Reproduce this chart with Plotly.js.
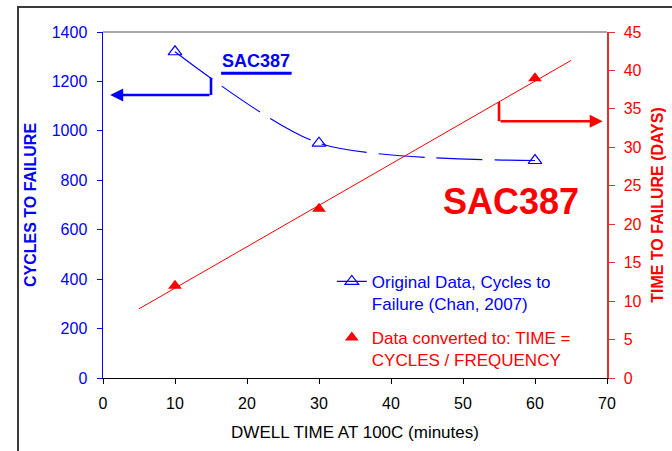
<!DOCTYPE html>
<html><head><meta charset="utf-8">
<script src="https://cdn.plot.ly/plotly-3.0.1.min.js"></script>
<style>
html,body{margin:0;padding:0;background:#fff;overflow:hidden}
#chart{width:672px;height:451px}
#frame{position:absolute;left:17px;top:6px;width:700px;height:500px;border-left:2px solid #3a3a3a;border-top:2px solid #3a3a3a;pointer-events:none}
</style>
</head><body>
<div id="chart"></div><div id="frame"></div>
<script>
// Data
const dwellMinutes = [10, 30, 60];
const cyclesToFailure = [1320, 950, 880];
const daysToFailure = [12, 22, 39];
const trendDwell = [5, 65];
const trendDays = [9.0, 41.3];
const xTickVals = [0, 10, 20, 30, 40, 50, 60, 70];
const yTickVals = [0, 200, 400, 600, 800, 1000, 1200, 1400];
const y2TickVals = [0, 5, 10, 15, 20, 25, 30, 35, 40, 45];

const BLUE = '#0000FF', RED = '#FF0000';
const FONT = 'Arial, "Liberation Sans", sans-serif';

const traces = [
  {x: dwellMinutes, y: cyclesToFailure, mode: 'lines', line: {color: BLUE, width: 1.2, shape: 'spline', smoothing: 0.75, dash: '46px,12px'}, showlegend: false, hoverinfo: 'skip'},
  {x: dwellMinutes, y: cyclesToFailure, mode: 'markers', marker: {symbol: 'triangle-up-open', size: 12, color: BLUE, line: {width: 1.2, color: BLUE}}, showlegend: false},
  {x: [null], y: [null], mode: 'lines+markers', legendgroup: 'a', name: 'Original Data, Cycles to<br>Failure (Chan, 2007)', line: {color: BLUE, width: 1.2}, marker: {symbol: 'triangle-up-open', size: 12, color: BLUE, line: {width: 1.2, color: BLUE}}},
  {x: trendDwell, y: trendDays, yaxis: 'y2', mode: 'lines', line: {color: RED, width: 1}, showlegend: false, hoverinfo: 'skip'},
  {x: dwellMinutes, y: daysToFailure, yaxis: 'y2', mode: 'markers', legendgroup: 'b', name: 'Data converted to: TIME =<br>CYCLES / FREQUENCY', marker: {symbol: 'triangle-up', size: 12, color: RED}}
];

const layout = {
  width: 672, height: 451,
  margin: {l: 103, r: 65, t: 32, b: 73},
  paper_bgcolor: '#fff', plot_bgcolor: '#fff',
  font: {family: FONT, size: 16, color: '#000'},
  showlegend: true,
  legend: {x: 0.454, y: 0.33, xanchor: 'left', yanchor: 'top', valign: 'top', bgcolor: 'rgba(0,0,0,0)', font: {family: FONT, size: 17, color: BLUE}, tracegroupgap: 9},
  xaxis: {range: [0, 70], tickvals: xTickVals, ticks: 'outside', ticklen: 5, tickcolor: '#000', showline: true, linecolor: '#000', linewidth: 1.2, showgrid: false, zeroline: false, tickfont: {size: 16, color: '#000'}, ticklabelstandoff: 6,
    title: {text: 'DWELL TIME AT 100C (minutes)', font: {size: 17, color: '#000'}, standoff: 14}},
  yaxis: {range: [0, 1400], tickvals: yTickVals, ticks: 'outside', ticklen: 5, tickcolor: BLUE, showline: true, linecolor: BLUE, linewidth: 1.5, showgrid: false, zeroline: false, tickfont: {size: 16, color: BLUE}, ticklabelstandoff: 6,
    title: {text: '<b>CYCLES TO FAILURE</b>', font: {size: 16, color: BLUE}, standoff: 11}},
  yaxis2: {range: [0, 45], tickvals: y2TickVals, overlaying: 'y', side: 'right', ticks: 'outside', ticklen: 6, tickcolor: '#E03030', showline: true, linecolor: '#E03030', linewidth: 1.5, showgrid: false, zeroline: false, tickfont: {size: 16, color: RED}, ticklabelstandoff: 6,
    title: {text: '<b>TIME TO FAILURE (DAYS)</b>', font: {size: 16, color: RED}, standoff: 11}},
  yaxis3: {range: [0, 45], tickvals: y2TickVals, overlaying: 'y', side: 'right', anchor: 'x', ticks: 'inside', ticklen: 6, tickcolor: '#E03030', showticklabels: false, showline: false, showgrid: false, zeroline: false},
  shapes: [
    {type: 'line', xref: 'paper', yref: 'paper', x0: 0, x1: 1, y0: 1, y1: 1, line: {color: '#A8A8A8', width: 2}},
    {type: 'line', xref: 'x', yref: 'y', x0: 15, x1: 15, y0: 1215, y1: 1145, line: {color: BLUE, width: 2.6}},
    {type: 'line', xref: 'x', yref: 'y2', x0: 55, x1: 55, y0: 35.9, y1: 33.4, line: {color: RED, width: 2.6}},
    {type: 'line', xref: 'x', yref: 'y', x0: 16.4, x1: 26.2, y0: 1233, y1: 1233, line: {color: BLUE, width: 3}}
  ],
  annotations: [
    {x: 1, y: 1145, xref: 'x', yref: 'y', ax: 15, ay: 1145, axref: 'x', ayref: 'y', text: '', showarrow: true, arrowhead: 2, arrowsize: 1, arrowwidth: 2.6, arrowcolor: BLUE},
    {x: 69.4, y: 33.4, xref: 'x', yref: 'y2', ax: 55, ay: 33.4, axref: 'x', ayref: 'y2', text: '', showarrow: true, arrowhead: 2, arrowsize: 1, arrowwidth: 2.6, arrowcolor: RED},
    {x: 21.3, y: 1233, xref: 'x', yref: 'y', yanchor: 'bottom', yshift: 0, text: '<b>SAC387</b>', showarrow: false, font: {family: FONT, size: 18, color: BLUE}},
    {x: 56.6, y: 716, xref: 'x', yref: 'y', text: '<b>SAC387</b>', showarrow: false, font: {family: FONT, size: 36, color: RED}}
  ]
};

Plotly.newPlot('chart', traces, layout, {displayModeBar: false, staticPlot: true}).then(function(){
  // colour the second legend entry's text red
  const items = document.querySelectorAll('.legend .traces');
  if (items.length > 1) {
    items[1].querySelectorAll('text').forEach(t => { t.style.fill = RED; });
  }
});
</script>
</body></html>
